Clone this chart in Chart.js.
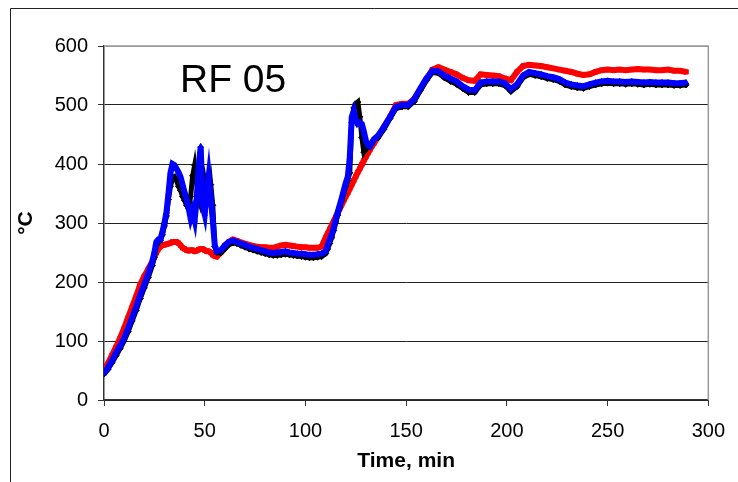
<!DOCTYPE html>
<html>
<head>
  <title>RF 05</title>
  <script src="https://cdn.jsdelivr.net/npm/chart.js"></script>
  <style>
    html, body { margin: 0; padding: 0; background: #fff; }
    canvas { display: block; }
  </style>
</head>
<body>
  <canvas id="rfChart" width="738" height="482"></canvas>

  <script>
    // sample times, min (finer around the spikes)
    var timeMin = [
      0, 2, 4, 6, 8, 10, 12, 14, 16, 18, 20, 22,
      24, 25, 26, 27, 28, 29, 30, 31, 32, 33, 34, 35, 36, 37, 38, 39, 40,
      41, 42, 43, 44, 45, 46, 47, 48, 49, 50, 51, 52, 53, 54, 55, 56,
      58, 60, 62, 64, 66, 68, 70, 72, 74, 76, 78, 80, 82, 84, 86, 88, 90,
      92, 94, 96, 98, 100, 102, 104, 106, 108, 110,
      111, 112, 113, 114, 115, 116, 117, 118, 119, 120, 121, 122, 123, 124,
      125, 126, 127, 128, 129, 130, 131, 132, 133, 134,
      136, 139, 142, 145, 148, 151, 154, 157, 160, 163, 166, 169, 172, 175,
      178, 181, 184, 187, 190, 193, 196, 199, 202, 205, 208, 211, 214, 217,
      220, 223, 226, 229, 232, 235, 238, 241, 244, 247, 250, 253, 256, 259,
      262, 265, 268, 271, 274, 277, 280, 283, 286, 289
    ];

    // temperatures, °C
    var redTemp = [
      52, 62, 76, 90, 105, 122, 140, 158, 176, 196, 210, 222,
      235, 242, 250, 256, 260, 262, 263, 264, 265, 266, 268, 268, 268, 266, 262, 258, 256,
      254, 253, 254, 254, 252, 253, 255, 256, 256, 254, 252, 252, 250, 246, 244, 243,
      250, 262, 268, 272, 270, 267, 265, 263, 261, 260, 259, 259, 258, 258, 260, 262, 263,
      262, 261, 260, 259, 259, 258, 258, 258, 260, 275,
      282, 289, 296, 303, 310, 317, 324, 331, 338, 345, 351, 358, 365, 372,
      379, 386, 392, 399, 406, 412, 418, 424, 430, 435,
      446, 463, 480, 500, 502, 502, 510, 526, 543, 560, 564, 560, 556, 552,
      546, 542, 541, 552, 551, 550, 549, 545, 542, 556, 566, 568, 567, 566,
      564, 562, 560, 558, 556, 553, 551, 552, 556, 559, 560, 559, 560, 559,
      560, 561, 560, 560, 559, 559, 560, 558, 558, 556
    ];

    var blackTemp = [
      44, 52, 63, 75, 87, 100, 116, 134, 152, 172, 190, 208,
      228, 242, 262, 268, 270, 280, 295, 312, 340, 362, 375, 378, 372, 362, 355, 345, 338,
      330, 325, 345, 380, 398, 370, 340, 330, 345, 370, 350, 340, 365, 330, 260, 250,
      249, 256, 263, 266, 265, 262, 259, 256, 254, 252, 250, 248, 246, 245, 245, 246, 247,
      246, 245, 244, 243, 242, 241, 241, 242, 243, 248,
      256, 265, 275, 287, 300, 313, 326, 338, 350, 362, 372, 385, 470, 495,
      502, 505, 480, 445, 420, 425, 430, 430, 436, 442,
      444, 459, 477, 494, 497, 497, 506, 524, 541, 555, 554, 546, 540, 535,
      528, 521, 521, 534, 536, 536, 536, 533, 523, 531, 546, 552, 550, 548,
      545, 543, 540, 534, 531, 529, 528, 531, 534, 536, 537, 536, 536, 535,
      536, 535, 534, 535, 534, 534, 534, 533, 533, 534
    ];

    var blueTemp = [
      45, 55, 67, 80, 92, 105, 122, 140, 158, 178, 196, 215,
      235, 250, 268, 272, 272, 285, 300, 318, 350, 385, 400, 398, 392, 386, 378, 365, 352,
      340, 325, 308, 320, 305, 340, 395, 430, 330, 315, 350, 380, 345, 305, 262, 252,
      254, 262, 268, 270, 268, 265, 263, 260, 258, 256, 254, 252, 250, 249, 250, 251, 252,
      250, 249, 248, 248, 247, 246, 246, 247, 248, 252,
      262, 272, 280, 292, 305, 318, 330, 342, 355, 368, 378, 410, 480, 490,
      475, 468, 470, 468, 455, 440, 432, 430, 436, 442,
      448, 463, 480, 497, 500, 500, 510, 528, 545, 558, 557, 550, 545, 540,
      532, 526, 525, 538, 540, 540, 540, 537, 527, 535, 550, 556, 554, 552,
      549, 547, 544, 538, 535, 533, 532, 535, 538, 540, 541, 540, 540, 539,
      540, 539, 538, 539, 538, 538, 538, 537, 537, 538
    ];

    // axis tick labels
    var xTickValues = [0, 50, 100, 150, 200, 250, 300];
    var yTickValues = [0, 100, 200, 300, 400, 500, 600];

    var chartTitle = 'RF 05';
    var xTitle = 'Time, min';
    var yTitle = '°C';

    var fontFamily = '"Liberation Sans", Arial, sans-serif';

    function toPoints(values) {
      return timeMin.map(function (t, i) {
        return { x: t, y: values[i] };
      });
    }

    function series(values, color, style, width, order) {
      return {
        data: toPoints(values),
        showLine: true,
        borderColor: color,
        backgroundColor: color,
        borderWidth: width,
        pointStyle: style,
        pointRadius: 3,
        pointBorderWidth: 1,
        pointBorderColor: color,
        pointBackgroundColor: color,
        tension: 0,
        order: order
      };
    }

    // page frame, plot border and the label inside the plot
    var framePlugin = {
      id: 'frame',
      beforeDraw: function (chart) {
        var ctx = chart.ctx;
        ctx.save();
        ctx.fillStyle = '#fff';
        ctx.fillRect(0, 0, chart.width, chart.height);
        ctx.strokeStyle = '#222';
        ctx.lineWidth = 1;
        ctx.beginPath();
        ctx.moveTo(10.5, chart.height);
        ctx.lineTo(10.5, 8.5);
        ctx.lineTo(chart.width, 8.5);
        ctx.stroke();
        ctx.restore();
      },
      afterDraw: function (chart) {
        var ctx = chart.ctx;
        var a = chart.chartArea;
        ctx.save();
        ctx.strokeStyle = '#999';
        ctx.lineWidth = 1.5;
        ctx.beginPath();
        ctx.moveTo(a.left, a.top);
        ctx.lineTo(a.right, a.top);
        ctx.lineTo(a.right, a.bottom);
        ctx.stroke();
        ctx.fillStyle = '#000';
        ctx.font = '39px ' + fontFamily;
        ctx.textBaseline = 'alphabetic';
        ctx.fillText(chartTitle, 180, 92);
        ctx.restore();
      }
    };

    new Chart(document.getElementById('rfChart'), {
      type: 'scatter',
      data: {
        datasets: [
          series(redTemp, '#ff0000', 'rect', 6, 3),
          series(blackTemp, '#000000', 'rectRot', 5, 2),
          series(blueTemp, '#0000ff', 'triangle', 6, 1)
        ]
      },
      options: {
        responsive: false,
        animation: false,
        devicePixelRatio: 1,
        layout: { padding: { left: 10, top: 46, right: 28, bottom: 8 } },
        plugins: {
          legend: { display: false },
          tooltip: { enabled: false }
        },
        scales: {
          x: {
            type: 'linear',
            min: 0,
            max: 300,
            afterBuildTicks: function (scale) {
              scale.ticks = xTickValues.map(function (v) { return { value: v }; });
            },
            afterFit: function (scale) { scale.height = 74; },
            grid: {
              drawOnChartArea: false,
              drawTicks: true,
              tickLength: 6,
              tickColor: '#333'
            },
            border: { color: '#333', width: 1.5 },
            ticks: {
              color: '#000',
              padding: 13,
              maxRotation: 0,
              font: { family: fontFamily, size: 20 }
            },
            title: {
              display: true,
              text: xTitle,
              color: '#000',
              padding: { top: 0, bottom: 0 },
              font: { family: fontFamily, size: 21, weight: 'bold' }
            }
          },
          y: {
            type: 'linear',
            min: 0,
            max: 600,
            afterBuildTicks: function (scale) {
              scale.ticks = yTickValues.map(function (v) { return { value: v }; });
            },
            afterFit: function (scale) { scale.width = 94; },
            grid: {
              color: function (c) { return c.tick && c.tick.value === 600 ? '#999' : '#222'; },
              lineWidth: 1,
              tickLength: 6,
              tickColor: '#333'
            },
            border: { color: '#333', width: 1.5 },
            ticks: {
              color: '#000',
              padding: 10,
              font: { family: fontFamily, size: 20 }
            },
            title: {
              display: true,
              text: yTitle,
              color: '#000',
              padding: { top: 4, bottom: 0 },
              font: { family: fontFamily, size: 21, weight: 'bold' }
            }
          }
        }
      },
      plugins: [framePlugin]
    });
  </script>
</body>
</html>
